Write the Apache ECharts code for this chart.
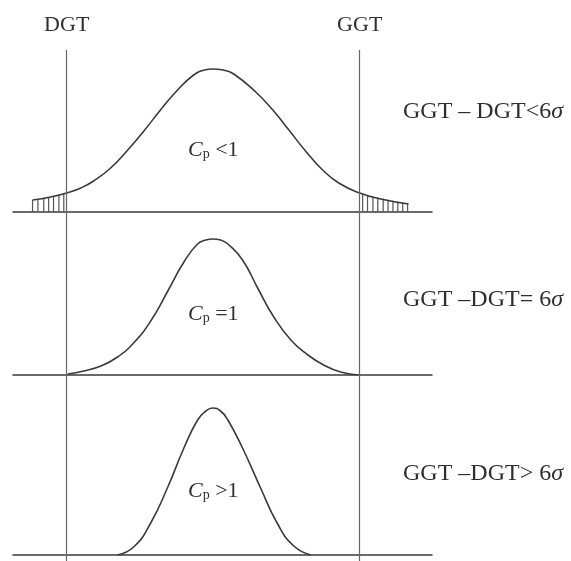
<!DOCTYPE html>
<html>
<head>
<meta charset="utf-8">
<script src="https://cdn.jsdelivr.net/npm/echarts@6/dist/echarts.min.js"></script>
<style>
html,body{margin:0;padding:0;background:#fff;}
#chart{width:571px;height:561px;}
</style>
</head>
<body>
<div id="chart"></div>
<script>
// x in units of sigma of the middle curve, y = curve height
const specNames = ['DGT', 'GGT'];
const specLimits = [-3, 3];

const x1 = [-3.70, -3.33, -3.00, -2.71, -2.45, -2.10, -1.75, -1.42, -1.08, -0.73, -0.40, -0.18, 0, 0.20, 0.42, 0.87, 1.22, 1.55, 1.89, 2.24, 2.57, 3.00, 3.43, 4.00];
const y1 = [12, 15, 19, 24, 31, 44, 62, 81, 102, 122, 137, 142, 143, 142, 138, 120, 102, 82, 61, 42, 29, 19, 13, 8];

const x2 = [-2.98, -2.65, -2.30, -1.96, -1.63, -1.28, -0.93, -0.60, -0.32, -0.15, -0.01, 0.15, 0.30, 0.60, 0.91, 1.24, 1.59, 1.94, 2.26, 2.61, 2.98];
const y2 = [1, 4, 9, 18, 32, 54, 84, 113, 131, 135, 136, 135, 131, 115, 87, 58, 35, 20, 10, 3, 0];

const x3 = [-1.96, -1.63, -1.28, -0.93, -0.60, -0.32, -0.15, -0.01, 0.15, 0.30, 0.60, 0.97, 1.32, 1.65, 2.00];
const y3 = [0, 8, 32, 68, 107, 135, 144, 147, 144, 135, 107, 67, 31, 9, 0];

// hatched tails outside the limits (top curve)
const hatchX = [-3.70, -3.59, -3.47, -3.37, -3.27, -3.16, -3.06, 3.06, 3.16, 3.27, 3.37, 3.48, 3.58, 3.68, 3.78, 3.88, 3.98];
const hatchH = [12, 12.5, 13.5, 14.5, 15.5, 17, 18.5, 18.3, 17, 15.7, 14.5, 13.3, 12.2, 11.2, 10.2, 9.3, 8.4];

const conditions = ['GGT – DGT<6{s|σ}', 'GGT –DGT= 6{s|σ}', 'GGT –DGT> 6{s|σ}'];
const cpText = [' <1', ' =1', ' >1'];

const pairs = (xs, ys) => xs.map((x, i) => [x, ys[i]]);

const ink = '#3a3a3a';
const serif = '"Liberation Serif", "DejaVu Serif", serif';

const grids = [
  {left: 13, width: 419, top: 62, height: 150},
  {left: 13, width: 419, top: 225, height: 150},
  {left: 13, width: 419, top: 405, height: 150},
  {left: 13, width: 419, top: 50, height: 511}
];

const xAxes = grids.map((g, i) => ({
  type: 'value', gridIndex: i, min: -4.1, max: 4.48,
  axisLine: {show: i < 3, onZero: false, lineStyle: {color: ink, width: 1.5}},
  axisTick: {show: false}, axisLabel: {show: false}, splitLine: {show: false}
}));
const yAxes = grids.map((g, i) => ({
  type: 'value', gridIndex: i, min: 0, max: i < 3 ? 150 : 1,
  axisLine: {show: false}, axisTick: {show: false}, axisLabel: {show: false}, splitLine: {show: false}
}));

const curve = (data, i) => ({
  type: 'line', xAxisIndex: i, yAxisIndex: i, data: data,
  smooth: 0.5, showSymbol: false, silent: true,
  lineStyle: {color: ink, width: 1.6}
});

const chart = echarts.init(document.getElementById('chart'));
chart.setOption({
  animation: false,
  backgroundColor: '#fff',
  grid: grids,
  xAxis: xAxes,
  yAxis: yAxes,
  series: [
    curve(pairs(x1, y1), 0),
    curve(pairs(x2, y2), 1),
    curve(pairs(x3, y3), 2),
    {
      type: 'bar', xAxisIndex: 0, yAxisIndex: 0, data: pairs(hatchX, hatchH),
      barWidth: 1.2, silent: true, itemStyle: {color: '#555'}
    },
    {
      type: 'line', xAxisIndex: 3, yAxisIndex: 3, data: [],
      markLine: {
        silent: true, symbol: 'none', animation: false,
        lineStyle: {color: '#666', width: 1.2, type: 'solid'},
        label: {
          position: 'end', distance: 14, formatter: '{b}',
          color: '#2e2e2e', fontSize: 22, fontFamily: serif
        },
        data: specLimits.map((v, i) => ({xAxis: v, name: specNames[i]}))
      }
    }
  ],
  graphic: [112, 300, 474].map((y, i) => ({
    type: 'text', x: 403, y: y,
    style: {
      text: conditions[i], fill: '#2e2e2e', font: '24px ' + serif,
      textVerticalAlign: 'middle',
      rich: {s: {fontStyle: 'italic', fontSize: 24, fontFamily: serif, fill: '#2e2e2e'}}
    }
  })).concat([150, 314, 491].map((y, i) => ({
    type: 'text', x: 188, y: y,
    style: {
      text: '{c|C}{p|p}{n|' + cpText[i] + '}', fill: '#2e2e2e',
      textVerticalAlign: 'middle',
      rich: {
        c: {fontStyle: 'italic', fontSize: 22, fontFamily: serif, fill: '#2e2e2e'},
        p: {fontSize: 14, fontFamily: serif, fill: '#2e2e2e', verticalAlign: 'bottom', padding: [8, 0, 0, 0]},
        n: {fontSize: 22, fontFamily: serif, fill: '#2e2e2e'}
      }
    }
  })))
});
</script>
</body>
</html>
